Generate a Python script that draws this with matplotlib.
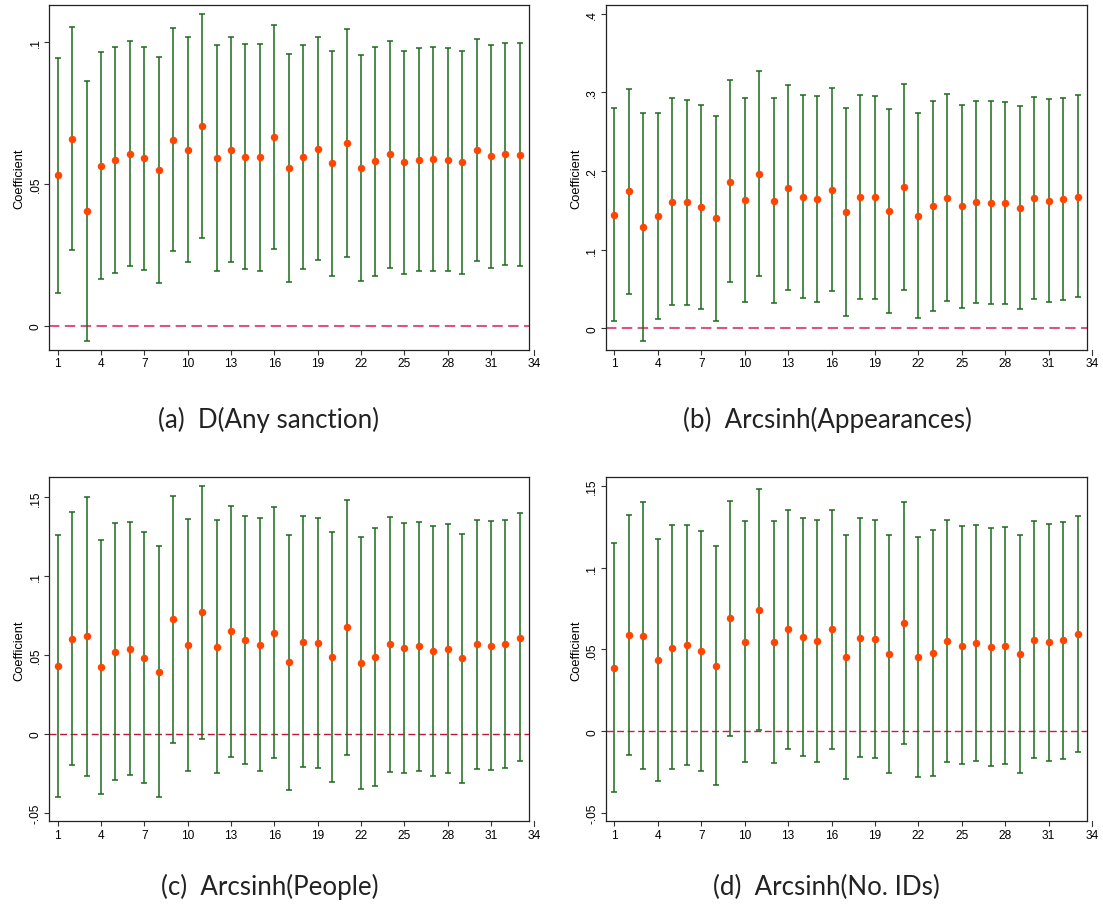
import numpy as np
import matplotlib
matplotlib.use("Agg")
import matplotlib.pyplot as plt

plt.rcParams['font.family'] = ['Liberation Sans', 'DejaVu Sans']

# lag / event index on the x axis
periods = np.arange(1, 34)

# (a) D(Any sanction)
coef_a = [0.0531, 0.0657, 0.0403, 0.0563, 0.0583, 0.0606, 0.0589, 0.0548, 0.0655, 0.0620, 0.0703,
          0.0592, 0.0620, 0.0595, 0.0593, 0.0664, 0.0555, 0.0593, 0.0623, 0.0573, 0.0643, 0.0555,
          0.0579, 0.0603, 0.0575, 0.0585, 0.0587, 0.0583, 0.0575, 0.0617, 0.0596, 0.0604, 0.0601]
hi_a = [0.0944, 0.1050, 0.0860, 0.0962, 0.0982, 0.1002, 0.0982, 0.0945, 0.1049, 0.1015, 0.1099,
        0.0989, 0.1016, 0.0993, 0.0993, 0.1060, 0.0958, 0.0987, 0.1015, 0.0968, 0.1043, 0.0954,
        0.0982, 0.1004, 0.0968, 0.0978, 0.0982, 0.0977, 0.0967, 0.1008, 0.0988, 0.0996, 0.0994]
lo_a = [0.0116, 0.0265, -0.0054, 0.0165, 0.0185, 0.0209, 0.0195, 0.0151, 0.0262, 0.0225, 0.0309,
        0.0194, 0.0223, 0.0201, 0.0194, 0.0270, 0.0154, 0.0198, 0.0231, 0.0176, 0.0243, 0.0157,
        0.0176, 0.0203, 0.0183, 0.0191, 0.0194, 0.0191, 0.0183, 0.0227, 0.0203, 0.0214, 0.0209]

# (b) Arcsinh(Appearances)
coef_b = [0.1445, 0.1742, 0.1284, 0.1432, 0.1610, 0.1602, 0.1538, 0.1403, 0.1864, 0.1631, 0.1958,
          0.1619, 0.1788, 0.1674, 0.1644, 0.1765, 0.1479, 0.1669, 0.1669, 0.1492, 0.1792, 0.1432,
          0.1551, 0.1661, 0.1551, 0.1602, 0.1593, 0.1593, 0.1534, 0.1661, 0.1623, 0.1640, 0.1674]
hi_b = [0.2805, 0.3047, 0.2733, 0.2742, 0.2932, 0.2907, 0.2835, 0.2699, 0.3153, 0.2932, 0.3271,
        0.2928, 0.3093, 0.2970, 0.2953, 0.3059, 0.2801, 0.2970, 0.2958, 0.2788, 0.3102, 0.2742,
        0.2886, 0.2975, 0.2839, 0.2886, 0.2890, 0.2877, 0.2826, 0.2945, 0.2915, 0.2924, 0.2962]
lo_b = [0.0089, 0.0441, -0.0165, 0.0123, 0.0292, 0.0297, 0.0242, 0.0097, 0.0585, 0.0339, 0.0661,
        0.0318, 0.0492, 0.0381, 0.0339, 0.0470, 0.0157, 0.0369, 0.0377, 0.0199, 0.0483, 0.0131,
        0.0220, 0.0347, 0.0263, 0.0318, 0.0305, 0.0305, 0.0246, 0.0377, 0.0335, 0.0356, 0.0394]

# (c) Arcsinh(People)
coef_c = [0.0429, 0.0605, 0.0619, 0.0425, 0.0522, 0.0541, 0.0484, 0.0395, 0.0727, 0.0562, 0.0772,
          0.0554, 0.0651, 0.0594, 0.0564, 0.0643, 0.0455, 0.0586, 0.0577, 0.0488, 0.0677, 0.0452,
          0.0490, 0.0569, 0.0543, 0.0556, 0.0526, 0.0539, 0.0480, 0.0569, 0.0560, 0.0569, 0.0611]
hi_c = [0.1260, 0.1410, 0.1505, 0.1233, 0.1336, 0.1347, 0.1283, 0.1192, 0.1512, 0.1362, 0.1575,
        0.1355, 0.1446, 0.1385, 0.1368, 0.1438, 0.1264, 0.1385, 0.1372, 0.1283, 0.1484, 0.1252,
        0.1309, 0.1376, 0.1336, 0.1347, 0.1321, 0.1330, 0.1271, 0.1357, 0.1353, 0.1357, 0.1400]
lo_c = [-0.0397, -0.0195, -0.0264, -0.0378, -0.0290, -0.0258, -0.0309, -0.0397, -0.0055, -0.0235,
        -0.0030, -0.0247, -0.0144, -0.0192, -0.0237, -0.0150, -0.0355, -0.0209, -0.0216, -0.0307,
        -0.0131, -0.0351, -0.0328, -0.0239, -0.0247, -0.0233, -0.0266, -0.0249, -0.0309, -0.0222,
        -0.0230, -0.0218, -0.0173]

# (d) Arcsinh(No. IDs)
coef_d = [0.0389, 0.0587, 0.0582, 0.0436, 0.0511, 0.0527, 0.0489, 0.0401, 0.0690, 0.0546, 0.0741,
          0.0544, 0.0623, 0.0574, 0.0550, 0.0623, 0.0452, 0.0572, 0.0564, 0.0473, 0.0662, 0.0454,
          0.0479, 0.0554, 0.0523, 0.0542, 0.0513, 0.0523, 0.0473, 0.0558, 0.0546, 0.0556, 0.0595]
hi_d = [0.1149, 0.1324, 0.1399, 0.1175, 0.1259, 0.1263, 0.1222, 0.1130, 0.1409, 0.1283, 0.1479,
        0.1283, 0.1354, 0.1301, 0.1289, 0.1352, 0.1198, 0.1303, 0.1291, 0.1202, 0.1403, 0.1189,
        0.1230, 0.1293, 0.1253, 0.1263, 0.1240, 0.1248, 0.1198, 0.1283, 0.1269, 0.1279, 0.1316]
lo_d = [-0.0373, -0.0145, -0.0228, -0.0301, -0.0230, -0.0206, -0.0240, -0.0326, -0.0026, -0.0185,
        0.0006, -0.0191, -0.0108, -0.0149, -0.0185, -0.0108, -0.0291, -0.0157, -0.0163, -0.0255,
        -0.0077, -0.0279, -0.0271, -0.0185, -0.0202, -0.0181, -0.0214, -0.0200, -0.0253, -0.0165,
        -0.0181, -0.0167, -0.0126]

captions = ["(a)  D(Any sanction)", "(b)  Arcsinh(Appearances)",
            "(c)  Arcsinh(People)", "(d)  Arcsinh(No. IDs)"]
yticks_a = [0, 0.05, 0.1]
ylabels_a = ["0", ".05", ".1"]
yticks_b = [0, 0.1, 0.2, 0.3, 0.4]
ylabels_b = ["0", ".1", ".2", ".3", ".4"]
yticks_cd = [-0.05, 0, 0.05, 0.1, 0.15]
ylabels_cd = ["-.05", "0", ".05", ".1", ".15"]
xticks = [1, 4, 7, 10, 13, 16, 19, 22, 25, 28, 31]

W, H = 1103, 912
fig = plt.figure(figsize=(W / 100, H / 100), dpi=100)


def px_axes(left, top, right, bottom):
    return fig.add_axes([left / W, 1 - bottom / H, (right - left) / W, (bottom - top) / H])


panels = [
    (px_axes(49.3, 6, 529.3, 350.7), coef_a, lo_a, hi_a, (-0.00845, 0.1129), yticks_a, ylabels_a, '#d9577f', 1.5),
    (px_axes(606, 6, 1087, 350.7), coef_b, lo_b, hi_b, (-0.0271, 0.411), yticks_b, ylabels_b, '#d9577f', 1.5),
    (px_axes(49.3, 478.3, 529.3, 822.3), coef_c, lo_c, hi_c, (-0.0554, 0.1628), yticks_cd, ylabels_cd, '#c01540', 1.0),
    (px_axes(606, 478.3, 1087, 822.3), coef_d, lo_d, hi_d, (-0.0550, 0.1552), yticks_cd, ylabels_cd, '#d81848', 1.0),
]

for ax, coef, lo, hi, ylim, yt, yl, zcol, zlw in panels:
    coef = np.array(coef)
    lo = np.array(lo)
    hi = np.array(hi)
    ax.axhline(0, color=zcol, lw=zlw, ls=(0, (5, 2.6)), zorder=1)
    ax.errorbar(periods, coef, yerr=[coef - lo, hi - coef], fmt='none',
                ecolor='#1c6b1c', elinewidth=1.1, capsize=2.3, capthick=1.1, zorder=2)
    ax.plot(periods, coef, 'o', color='#ff4500', markersize=5.4, markeredgewidth=0, zorder=3)
    ax.set_xlim(0.42, 33.65)
    ax.set_ylim(*ylim)
    ax.set_xticks(xticks)
    ax.set_yticks(yt)
    ax.set_yticklabels(yl, rotation=90, va='center')
    ax.tick_params(axis='both', direction='out', length=3.6, width=0.8, labelsize=8.6,
                   pad=2, color='#333333')
    ax.set_ylabel("Coefficient", fontsize=9.3, labelpad=3)
    for s in ax.spines.values():
        s.set_color('#222222')
        s.set_linewidth(0.9)
    # stata draws the last axis tick (34) just past the plot region
    ax.plot([34, 34], [0, -0.014], transform=ax.get_xaxis_transform(),
            color='#333333', lw=0.8, clip_on=False)
    ax.annotate("34", xy=(34, 0), xycoords=('data', 'axes fraction'), xytext=(0, -5.6),
                textcoords='offset points', ha='center', va='top', fontsize=8.6)

cap_pos = [(269, 420), (827, 420), (270, 887), (826, 887)]
for txt, (cx, cy) in zip(captions, cap_pos):
    fig.text(cx / W, 1 - cy / H, txt, ha='center', va='center', fontsize=18.6,
             family=['Lato', 'DejaVu Sans'], color='#222222')

fig.savefig("out.png", dpi=100)
